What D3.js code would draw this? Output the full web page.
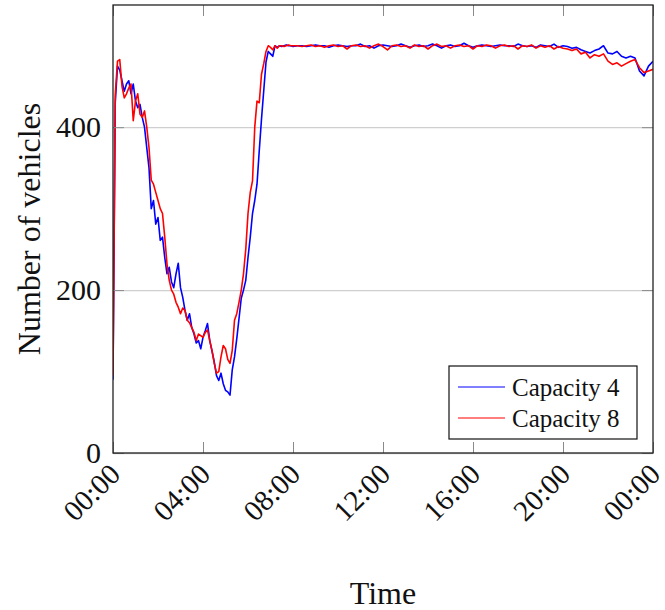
<!DOCTYPE html>
<html>
<head>
<meta charset="utf-8">
<script src="https://cdn.jsdelivr.net/npm/d3@7"></script>
<style>
  body { margin: 0; background: #fff; }
  text { font-family: "Liberation Serif", "Times New Roman", serif; fill: #111; }
</style>
</head>
<body>
<div id="container"></div>
<script>
//Time of day in hours (dense sampling through the morning, coarser afterwards)
var hours = [
  0.0,0.1,0.2,0.3,0.4,0.5,0.6,0.7,0.8,0.9,
  1.0,1.1,1.2,1.3,1.4,1.5,1.6,1.7,1.8,1.9,
  2.0,2.1,2.2,2.3,2.4,2.5,2.6,2.7,2.8,2.9,
  3.0,3.1,3.2,3.3,3.4,3.5,3.6,3.7,3.8,3.9,
  4.0,4.1,4.2,4.3,4.4,4.5,4.6,4.7,4.8,4.9,
  5.0,5.1,5.2,5.3,5.4,5.5,5.6,5.7,5.8,5.9,
  6.0,6.1,6.2,6.3,6.4,6.5,6.6,6.7,6.8,6.9,
  7.0,7.1,7.2,7.3,7.4,7.5,7.6,7.7,7.8,7.9,
  8.0,8.2,8.4,8.6,8.8,9.0,9.2,9.4,9.6,9.8,
  10.0,10.2,10.4,10.6,10.8,11.0,11.2,11.4,11.6,11.8,
  12.0,12.2,12.4,12.6,12.8,13.0,13.2,13.4,13.6,13.8,
  14.0,14.2,14.4,14.6,14.8,15.0,15.2,15.4,15.6,15.8,
  16.0,16.2,16.4,16.6,16.8,17.0,17.2,17.4,17.6,17.8,
  18.0,18.2,18.4,18.6,18.8,19.0,19.2,19.4,19.6,19.8,
  20.0,20.2,20.4,20.6,20.8,21.0,21.2,21.4,21.6,21.8,
  22.0,22.2,22.4,22.6,22.8,23.0,23.2,23.4,23.6,23.8,
  24.0
];

//Number of vehicles, capacity 4 (blue)
var capacity4 = [
  90,430,475,470,457,444,453,457,441,453,
  432,424,428,412,400,375,350,300,310,281,
  289,261,265,240,220,228,210,203,220,233,
  203,191,175,163,171,154,146,135,138,128,
  142,150,159,138,125,112,95,89,98,85,
  77,75,71,102,118,140,165,190,200,212,
  240,265,294,310,330,371,410,445,480,493,
  490,487,500,498,500,499,500,501,500,500,
  499,500,500,499,500,501,500,500,498,500,
  501,500,499,500,500,502,499,500,497,500,
  501,500,499,500,502,500,498,500,501,499,
  500,502,500,497,500,501,499,500,503,500,
  498,500,501,500,499,500,501,500,500,499,
  502,500,499,500,498,501,500,499,502,498,
  500,499,497,498,495,493,491,494,496,500,
  491,490,493,487,485,487,485,469,463,475,
  481
];

//Number of vehicles, capacity 8 (red)
var capacity8 = [
  95,440,481,483,450,436,441,448,453,408,
  432,441,416,412,420,400,375,335,330,320,
  310,300,294,265,232,212,200,195,185,179,
  171,178,175,163,160,154,148,138,146,144,
  142,148,151,138,126,110,98,100,118,132,
  128,115,110,126,163,171,185,200,220,250,
  294,320,334,400,432,430,465,478,493,500,
  498,495,500,497,500,500,499,500,501,500,
  500,500,499,500,501,499,500,498,500,501,
  499,500,496,500,501,499,500,497,500,502,
  499,495,500,501,499,500,497,501,499,500,
  496,500,502,499,500,497,500,501,499,500,
  496,500,499,501,500,497,500,501,499,500,
  496,500,499,501,497,500,498,500,496,499,
  497,496,494,496,490,492,485,489,487,490,
  481,477,479,475,478,481,483,473,467,469,
  471
];

var seriesNames = ["Capacity 4", "Capacity 8"];
var seriesColors = ["#0000ff", "#ff0000"];
var xTicks = [0, 4, 8, 12, 16, 20, 24];
var xTickLabels = ["00:00", "04:00", "08:00", "12:00", "16:00", "20:00", "00:00"];
var yTicks = [0, 200, 400];

var width = 665, height = 610;
var margin = {top: 5, right: 12, bottom: 157, left: 113};
var plotW = width - margin.left - margin.right;
var plotH = height - margin.top - margin.bottom;

//Create an SVG
var svg = d3.select("#container").append("svg")
    .attr("width", width)
    .attr("height", height);

svg.append("rect").attr("width", width).attr("height", height).attr("fill", "#fff");

var x = d3.scaleLinear().domain([0, 24]).range([0, plotW]);
var y = d3.scaleLinear().domain([0, 550]).range([plotH, 0]);

var g = svg.append("g")
    .attr("transform", "translate(" + margin.left + "," + margin.top + ")");

//Horizontal grid lines
g.append("g")
    .attr("class", "grid")
    .call(d3.axisLeft(y).tickValues(yTicks).tickSize(-plotW).tickFormat(""))
    .call(function(s) {
        s.select(".domain").remove();
        s.selectAll("line").attr("stroke", "#cfcfcf").attr("stroke-width", 1.3);
    });

//Clip the series to the plot area
svg.append("defs").append("clipPath").attr("id", "clip")
  .append("rect").attr("width", plotW).attr("height", plotH);

var line = d3.line()
    .x(function(d) { return x(d[0]); })
    .y(function(d) { return y(d[1]); });

var series = [capacity4, capacity8];
g.append("g").attr("clip-path", "url(#clip)")
  .selectAll("path")
    .data(series)
    .enter()
    .append("path")
    .attr("d", function(vals) { return line(hours.map(function(h, i) { return [h, vals[i]]; })); })
    .attr("fill", "none")
    .attr("stroke", function(d, i) { return seriesColors[i]; })
    .attr("stroke-width", 1.6)
    .attr("stroke-linejoin", "round");

//Ticks inside the frame on all four sides
var tickLen = 11;
function styleTicks(s) {
    s.select(".domain").remove();
    s.selectAll("line").attr("stroke", "#8a8a8a").attr("stroke-width", 1);
}
g.append("g").attr("transform", "translate(0," + plotH + ")")
    .call(d3.axisBottom(x).tickValues(xTicks).tickSize(-tickLen).tickFormat(""))
    .call(styleTicks);
g.append("g")
    .call(d3.axisTop(x).tickValues(xTicks).tickSize(-tickLen).tickFormat(""))
    .call(styleTicks);
g.append("g")
    .call(d3.axisLeft(y).tickValues(yTicks).tickSize(-tickLen).tickFormat(""))
    .call(styleTicks);
g.append("g").attr("transform", "translate(" + plotW + ",0)")
    .call(d3.axisRight(y).tickValues(yTicks).tickSize(-tickLen).tickFormat(""))
    .call(styleTicks);

//Frame
g.append("rect")
    .attr("width", plotW)
    .attr("height", plotH)
    .attr("fill", "none")
    .attr("stroke", "#222")
    .attr("stroke-width", 1.3);

//Y tick labels
g.selectAll(".ylab")
    .data(yTicks)
    .enter()
    .append("text")
    .attr("x", -12)
    .attr("y", function(d) { return y(d); })
    .attr("dy", "0.34em")
    .attr("text-anchor", "end")
    .style("font-size", "30px")
    .text(function(d) { return d; });

//X tick labels, rotated
g.selectAll(".xlab")
    .data(xTicks)
    .enter()
    .append("text")
    .attr("transform", function(d) { return "translate(" + (x(d) + 2) + "," + (plotH + 16) + ") rotate(-45)"; })
    .attr("dy", "0.34em")
    .attr("text-anchor", "end")
    .style("font-size", "29px")
    .text(function(d, i) { return xTickLabels[i]; });

//Axis titles
svg.append("text")
    .attr("transform", "translate(" + (margin.left + plotW / 2) + ",604)")
    .attr("text-anchor", "middle")
    .style("font-size", "32px")
    .text("Time");

svg.append("text")
    .attr("transform", "translate(40," + (margin.top + plotH / 2) + ") rotate(-90)")
    .attr("text-anchor", "middle")
    .style("font-size", "32px")
    .text("Number of vehicles");

//Legend
var legend = svg.append("g").attr("transform", "translate(449,366)");
legend.append("rect")
    .attr("width", 188)
    .attr("height", 73)
    .attr("fill", "#fff")
    .attr("stroke", "#111")
    .attr("stroke-width", 1.2);

var items = legend.selectAll(".item")
    .data(seriesNames)
    .enter()
    .append("g")
    .attr("transform", function(d, i) { return "translate(0," + (21 + i * 31) + ")"; });
items.append("line")
    .attr("x1", 9).attr("x2", 56)
    .attr("stroke", function(d, i) { return seriesColors[i]; })
    .attr("stroke-width", 1.2);
items.append("text")
    .attr("x", 63)
    .attr("dy", "0.34em")
    .style("font-size", "25px")
    .text(function(d) { return d; });
</script>
</body>
</html>
